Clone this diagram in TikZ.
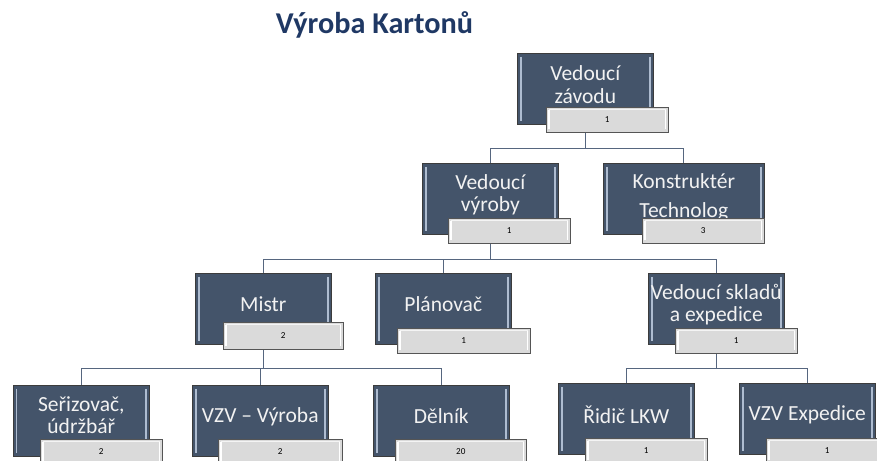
\documentclass[tikz,border=0pt]{standalone}
\usepackage{fontspec}
\setmainfont{Carlito}
\usetikzlibrary{backgrounds}
\definecolor{unitfill}{HTML}{44546A}
\definecolor{unitedge}{HTML}{3C3C3C}
\definecolor{unitglow}{HTML}{AEBCD0}
\definecolor{numfill}{HTML}{DADADA}
\definecolor{numedge}{HTML}{555555}
\definecolor{wirecol}{HTML}{56667F}
\definecolor{titleblue}{HTML}{1F3864}
\tikzset{
  unit/.style={draw=unitedge, fill=unitfill, anchor=north west,
    minimum width=3.4cm, minimum height=1.775cm, inner sep=0pt,
    path picture={
      \draw[unitglow, line width=1pt] ([shift={(2.5pt,-2.5pt)}]path picture bounding box.north west) -- ([shift={(2.5pt,2.5pt)}]path picture bounding box.south west);
      \draw[unitglow, line width=1pt] ([shift={(-2.5pt,-2.5pt)}]path picture bounding box.north east) -- ([shift={(-2.5pt,2.5pt)}]path picture bounding box.south east);
    }},
  unittext/.style={text=white!95!black, align=center, inner sep=0pt, yshift=3pt,
    font=\fontsize{15.3}{16}\selectfont},
  num/.style={draw=numedge, fill=numfill, anchor=north west, minimum width=3.05cm,
    minimum height=0.625cm, inner sep=0pt, font=\fontsize{6.5}{7}\selectfont,
    path picture={
      \draw[white, line width=1.2pt] ([shift={(2pt,-2pt)}]path picture bounding box.north west) -- ([shift={(2pt,2pt)}]path picture bounding box.south west);
      \draw[white, line width=1.2pt] ([shift={(-2pt,-2pt)}]path picture bounding box.north east) -- ([shift={(-2pt,2pt)}]path picture bounding box.south east);
      \draw[white!70!numfill, line width=1pt] ([shift={(2pt,-1.5pt)}]path picture bounding box.north west) -- ([shift={(-2pt,-1.5pt)}]path picture bounding box.north east);
    }},
  wire/.style={draw=wirecol, line width=0.7pt}
}

\begin{document}
\begin{tikzpicture}[x=0.025cm, y=-0.025cm]
    \useasboundingbox (0,0) rectangle (877,461);

    \node[anchor=base, text=titleblue, font=\fontsize{21.5}{24}\selectfont\bfseries] (title) at (374.5,33) {Výroba Kartonů};

    % level 1 and 2
    \node[unit, label={[unittext]center:{Vedoucí\\závodu}}] (zavod) at (517,53) {};
    \node[unit, label={[unittext]center:{Vedoucí\\výroby}}] (vyroba) at (422,163) {};
    \node[unit, minimum width=4.025cm, label={[unittext, yshift=-2pt]center:{Konstruktér\\[5pt]Technolog}}] (konstr) at (603,163) {};

    % level 3
    \node[unit, label={[unittext]center:Mistr}] (mistr) at (195,273) {};
    \node[unit, label={[unittext]center:Plánovač}] (planovac) at (375,273) {};
    \node[unit, label={[unittext]center:{Vedoucí skladů\\a expedice}}] (sklady) at (648,273) {};

    % level 4
    \node[unit, label={[unittext, yshift=1pt]center:{Seřizovač,\\údržbář}}] (serizovac) at (13,385) {};
    \node[unit, label={[unittext]center:VZV -- Výroba}] (vzvvyroba) at (192,385) {};
    \node[unit, label={[unittext]center:Dělník}] (delnik) at (373,385) {};
    \node[unit, label={[unittext]center:Řidič LKW}] (ridic) at (558,383) {};
    \node[unit, label={[unittext]center:VZV Expedice}] (vzvexp) at (739,383) {};

    % head counts
    \node[num] (zavodN) at (546,107) {1};
    \node[num] (vyrobaN) at (448,218) {1};
    \node[num] (konstrN) at (642,218) {3};
    \node[num, minimum width=3.0cm, minimum height=0.675cm] (mistrN) at (223,322) {2};
    \node[num, minimum width=3.325cm] (planovacN) at (397,328) {1};
    \node[num] (skladyN) at (675,328) {1};
    \node[num] (serizovacN) at (40,439) {2};
    \node[num, minimum width=3.1cm] (vzvvyrobaN) at (218,439) {2};
    \node[num, minimum width=3.275cm] (delnikN) at (395,439) {20};
    \node[num] (ridicN) at (585,438) {1};
    \node[num] (vzvexpN) at (766,438) {1};

    \begin{scope}[on background layer]
    \draw[wire] (zavod.south) -- ++(0,24) -| (vyroba.north);
    \draw[wire] (zavod.south) -- ++(0,24) -| (konstr.north);
    \draw[wire] (vyroba.south) -- ++(0,25) -| (mistr.north);
    \draw[wire] (vyroba.south) -- ++(0,25) -| (planovac.north);
    \draw[wire] (vyroba.south) -- ++(0,25) -| (sklady.north);
    \draw[wire] (mistr.south) -- ++(0,24) -| (serizovac.north);
    \draw[wire] (mistr.south) -- ++(0,24) -| (vzvvyroba.north);
    \draw[wire] (mistr.south) -- ++(0,24) -| (delnik.north);
    \draw[wire] (sklady.south) -- ++(0,24) -| (ridic.north);
    \draw[wire] (sklady.south) -- ++(0,24) -| (vzvexp.north);
    \end{scope}
\end{tikzpicture}
\end{document}
